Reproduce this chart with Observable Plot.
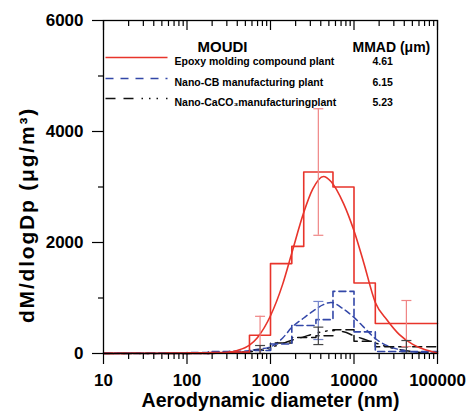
<!DOCTYPE html>
<html><head><meta charset="utf-8">
<script src="https://cdn.jsdelivr.net/npm/d3@7"></script>
<script src="https://cdn.jsdelivr.net/npm/@observablehq/plot@0.6"></script>
<style>body{margin:0;background:#fff}</style>
</head><body><div id="chart"></div>
<script>
// MOUDI stage edges (nm) and histogram values
const edgesRed = [10, 18, 32, 56, 100, 180, 320, 560, 1000, 1800, 2500, 5600, 10000, 18000, 100000];
const histRed = [3, 4, 5, 8, 12, 18, 25, 330, 1620, 1930, 3270, 3000, 1270, 540];
const edgesOther = [10, 18, 32, 56, 100, 180, 320, 560, 1000, 1800, 3500, 5600, 10000, 18000, 100000];
const histBlue = [10, 10, 10, 10, 15, 35, 40, 55, 170, 505, 610, 1120, 390, 35];
const histBlack = [5, 5, 5, 6, 10, 15, 25, 60, 190, 290, 320, 430, 220, 120];

// fitted curves
const fitX = [10, 100, 200, 300, 400, 560, 700, 1000, 1400, 1800, 2500, 3200, 4300, 5300, 7500, 10000, 13000, 18000, 25000, 35000, 50000, 70000, 100000];
const fitRed = [0, 0, 3, 18, 55, 150, 290, 680, 1250, 1810, 2540, 2960, 3190, 3100, 2700, 2210, 1650, 920, 600, 340, 170, 70, 10];
const fitBlue = [0, 0, 2, 5, 15, 50, 75, 120, 280, 470, 640, 760, 880, 920, 800, 650, 480, 270, 140, 70, 30, 12, 4];
const fitBlack = [0, 0, 2, 5, 12, 30, 55, 110, 180, 240, 300, 350, 395, 415, 390, 320, 260, 190, 120, 70, 35, 15, 5];

// error bars
const errRedX = [750, 3740, 42400];
const errRedMean = [330, 3270, 540];
const errRedSd = [340, 1140, 415];
const errBlueX = [3740];
const errBlueMean = [595];
const errBlueSd = [343];
const errBlackX = [750, 3740, 42400];
const errBlackMean = [70, 318, 120];
const errBlackSd = [74, 157, 114];

// legend
const legendNames = ["Epoxy molding compound plant", "Nano-CB manufacturing plant", "Nano-CaCO\u2083manufacturingplant"];
const legendMMAD = ["4.61", "6.15", "5.23"];

// ticks
const xMajor = [10, 100, 1000, 10000, 100000];
const xMinor = [20, 30, 40, 50, 60, 70, 80, 90, 200, 300, 400, 500, 600, 700, 800, 900,
  2000, 3000, 4000, 5000, 6000, 7000, 8000, 9000, 20000, 30000, 40000, 50000, 60000, 70000, 80000, 90000];
const yMajor = [0, 2000, 4000, 6000];
const yMinor = [1000, 3000, 5000];

const RED = "#e8342b", BLUE = "#3347a8", BLACK = "#111";
const stepPts = (edges, vals) => edges.map((e, i) => ({x: e, y: vals[Math.min(i, vals.length - 1)]}));
const fitPts = vals => fitX.map((x, i) => ({x, y: vals[i]}));
const errPts = (xs, m, s) => xs.map((x, i) => ({x, lo: Math.max(0, m[i] - s[i]), hi: m[i] + s[i]}));
const capSym = {draw(c) { c.moveTo(-5, 0); c.lineTo(5, 0); }};
const legSym = {draw(c) { c.moveTo(-31, 0); c.lineTo(31, 0); }};

const dashBlack = "10,8,10,8,1.5,6,1.5,6,1.5,8";

function errMarks(data, color) {
  return [
    Plot.ruleX(data, {x: "x", y1: "lo", y2: "hi", stroke: color, strokeWidth: 1.2}),
    Plot.dot(data, {x: "x", y: "hi", symbol: capSym, fill: "none", stroke: color, strokeWidth: 1.2}),
    Plot.dot(data, {x: "x", y: "lo", symbol: capSym, fill: "none", stroke: color, strokeWidth: 1.2})
  ];
}

const legendColors = [RED, BLUE, BLACK];
const legendDash = [null, "8,7", dashBlack];
const legendDy = [37, 58, 78];

const chart = Plot.plot({
  width: 471, height: 415,
  marginLeft: 103, marginRight: 34, marginTop: 20, marginBottom: 62,
  style: {fontFamily: "'Liberation Sans', Arial, Helvetica, sans-serif", background: "white", color: "black"},
  x: {type: "log", domain: [10, 100000]},
  y: {domain: [0, 6000]},
  marks: [
    // fitted curves
    Plot.line(fitPts(fitBlack), {x: "x", y: "y", stroke: BLACK, strokeWidth: 1.5, strokeDasharray: dashBlack, curve: "monotone-x"}),
    Plot.line(fitPts(fitBlue), {x: "x", y: "y", stroke: BLUE, strokeWidth: 1.5, strokeDasharray: "6,4", curve: "monotone-x"}),
    // histograms
    Plot.line(stepPts(edgesOther, histBlack), {x: "x", y: "y", stroke: BLACK, strokeWidth: 1.5, strokeDasharray: "9,5", curve: "step-after"}),
    Plot.line(stepPts(edgesOther, histBlue), {x: "x", y: "y", stroke: BLUE, strokeWidth: 1.6, strokeDasharray: "7,4", curve: "step-after"}),
    Plot.line(stepPts(edgesRed, histRed), {x: "x", y: "y", stroke: RED, strokeWidth: 1.6, curve: "step-after"}),
    Plot.line(fitPts(fitRed), {x: "x", y: "y", stroke: RED, strokeWidth: 1.6, curve: "monotone-x"}),
    // error bars
    ...errMarks(errPts(errRedX, errRedMean, errRedSd), "#ef8585"),
    ...errMarks(errPts(errBlueX, errBlueMean, errBlueSd), "#7485cc"),
    ...errMarks(errPts(errBlackX, errBlackMean, errBlackSd), "#444"),
    // frame + axes
    Plot.frame({stroke: "black", strokeWidth: 1.3}),
    Plot.tickX(xMajor, {x: d => d, insetBottom: 323, stroke: "black", strokeWidth: 1.2}),
    Plot.tickX(xMinor, {x: d => d, insetBottom: 327, stroke: "black", strokeWidth: 1.2}),
    Plot.axisX({ticks: xMajor, tickSize: 11, tickPadding: 9, tickFormat: d => String(d), fontSize: 17, fontWeight: "bold", label: null, strokeWidth: 1.2}),
    Plot.axisX({ticks: xMinor, tickSize: 6, tickFormat: () => "", label: null, strokeWidth: 1.2}),
    Plot.axisY({ticks: yMajor, tickSize: 11, tickPadding: 9, tickFormat: d => String(d), fontSize: 17, fontWeight: "bold", label: null, strokeWidth: 1.2}),
    Plot.axisY({ticks: yMinor, tickSize: 5, tickFormat: () => "", label: null, strokeWidth: 1.2}),
    // axis titles
    Plot.text(["Aerodynamic diameter (nm)"], {frameAnchor: "bottom", dy: 53, fontSize: 19.5, fontWeight: "bold", textAnchor: "middle"}),
    Plot.text(["dM/dlogDp (\u03bcg/m\u00b3)"], {frameAnchor: "left", dx: -76, dy: 28, rotate: -90, fontSize: 21, fontWeight: "bold", textAnchor: "middle"}),
    // legend
    Plot.text(["MOUDI"], {frameAnchor: "top-left", dx: 94, dy: 20.5, textAnchor: "start", fontSize: 15, fontWeight: "bold"}),
    Plot.text(["MMAD (\u03bcm)"], {frameAnchor: "top-left", dx: 249, dy: 22, textAnchor: "start", fontSize: 14, fontWeight: "bold"}),
    ...legendNames.flatMap((name, i) => [
      Plot.dot([name], {frameAnchor: "top-left", dx: 33, dy: legendDy[i], symbol: legSym, fill: "none", stroke: legendColors[i], strokeWidth: 1.5, strokeDasharray: legendDash[i]}),
      Plot.text([name], {frameAnchor: "top-left", dx: 71, dy: legendDy[i], textAnchor: "start", fontSize: 10.5, fontWeight: "bold"}),
      Plot.text([legendMMAD[i]], {frameAnchor: "top-left", dx: 269, dy: legendDy[i] + 0.5, textAnchor: "start", fontSize: 10.5, fontWeight: "bold"})
    ])
  ]
});
d3.select(chart).selectAll("text").filter(function() { return this.textContent.startsWith("dM/dlogDp"); })
  .attr("letter-spacing", "1.8px");
document.getElementById("chart").appendChild(chart);
</script>
</body></html>
